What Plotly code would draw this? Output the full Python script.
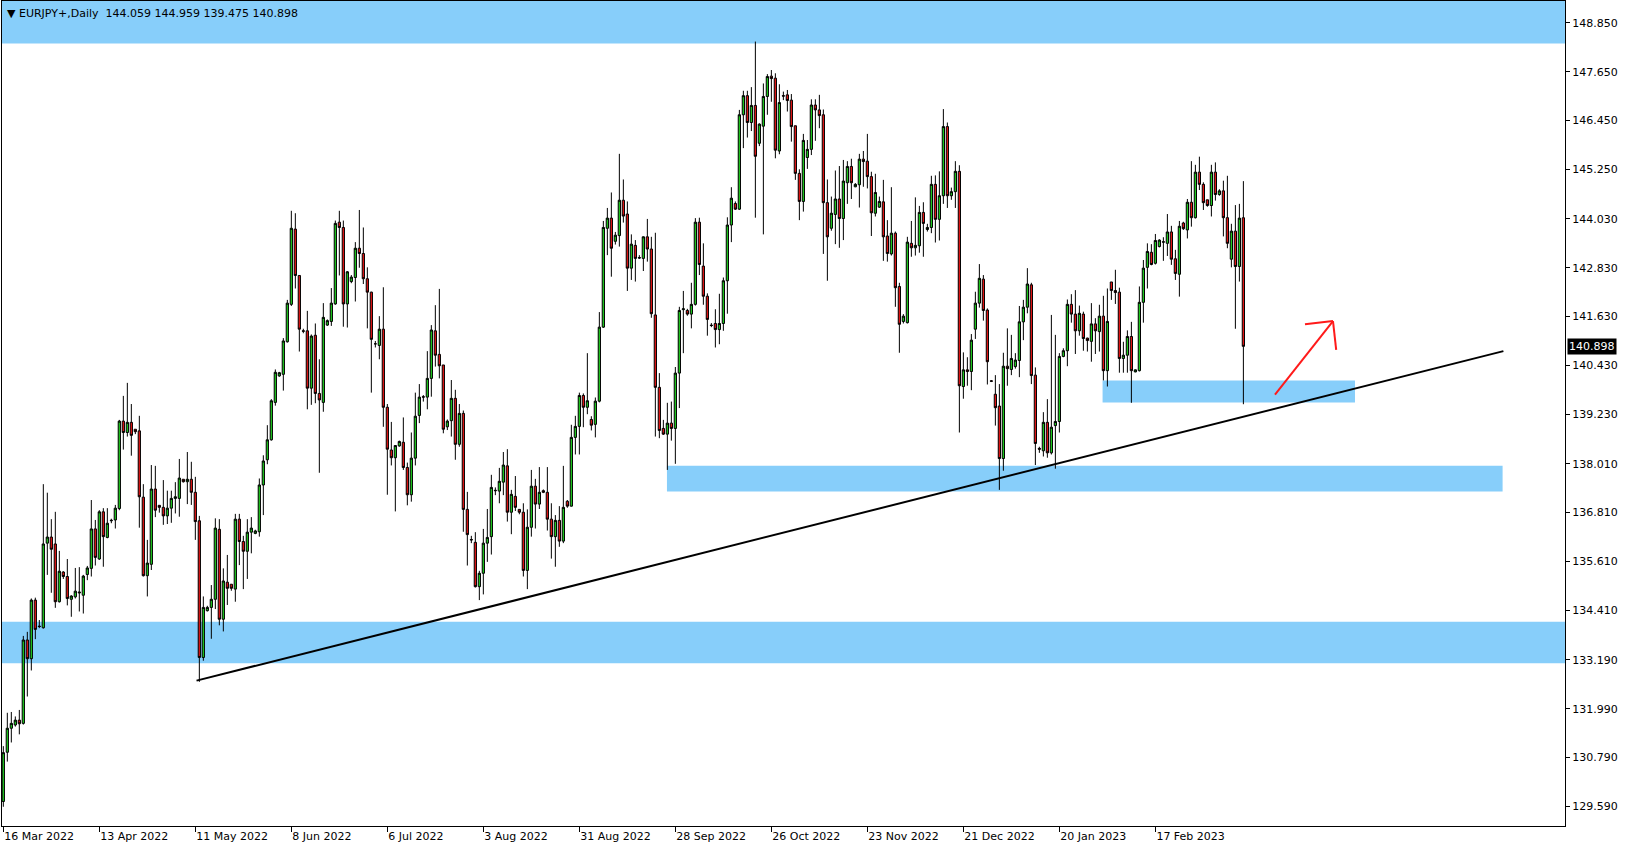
import plotly.graph_objects as go

# ---------------- data (daily bars, index 0 = 16 Mar 2022) ----------------
opens = [
    129.71, 130.92, 131.51, 131.59, 131.71, 131.63, 133.68, 133.22, 134.66, 134.02,
    133.98, 136.06, 136.21, 136.04, 134.62, 135.35, 135.24, 134.68, 134.74, 134.86,
    134.78, 135.29, 135.44, 136.41, 135.67, 136.83, 136.20, 136.61, 136.63, 136.91,
    139.06, 138.78, 139.03, 138.86, 138.82, 137.19, 135.26, 135.54, 137.39, 136.99,
    136.94, 136.73, 136.92, 137.16, 137.16, 137.63, 137.57, 137.63, 137.31, 136.61,
    133.25, 134.40, 134.48, 134.68, 136.40, 134.19, 135.10, 135.05, 134.93, 136.65,
    136.10, 135.86, 136.33, 136.30, 136.34, 137.49, 138.11, 138.60, 139.52, 140.17,
    140.21, 141.01, 141.93, 143.78, 142.64, 141.28, 141.28, 139.87, 141.17, 139.74,
    139.52, 141.42, 141.51, 141.94, 143.95, 143.82, 141.94, 142.49, 142.59, 143.31,
    143.18, 142.56, 142.23, 140.96, 140.92, 141.32, 139.40, 138.35, 138.16, 138.45,
    138.54, 137.92, 137.25, 138.15, 139.20, 139.66, 139.65, 140.11, 141.28, 140.70,
    140.44, 138.92, 139.07, 139.62, 138.49, 139.25, 136.89, 136.15, 136.08, 134.99,
    135.32, 136.06, 136.22, 137.36, 137.34, 137.56, 137.96, 136.82, 137.21, 136.89,
    136.82, 135.39, 136.45, 137.46, 137.02, 137.35, 137.31, 136.65, 136.22, 136.62,
    136.11, 137.09, 136.97, 138.66, 138.93, 139.69, 139.40, 139.10, 138.98, 139.55,
    141.37, 143.80, 144.05, 143.48, 143.62, 144.49, 144.15, 142.82, 143.38, 143.08,
    143.06, 143.59, 143.29, 141.67, 139.89, 138.88, 138.74, 139.01, 138.88, 140.24,
    141.80, 141.78, 141.69, 141.93, 143.95, 142.87, 142.13, 141.42, 141.46, 141.31,
    141.46, 142.51, 143.88, 144.41, 144.27, 146.59, 147.06, 146.40, 146.82, 145.89,
    146.31, 147.04, 147.54, 147.49, 145.70, 147.06, 147.08, 146.95, 146.32, 145.15,
    144.46, 145.54, 145.74, 146.83, 146.71, 146.59, 144.43, 143.80, 144.14, 144.52,
    144.04, 144.92, 145.32, 144.82, 144.87, 145.50, 145.45, 145.07, 144.17, 144.32,
    144.45, 143.61, 143.17, 143.68, 142.37, 141.51, 141.48, 143.43, 143.32, 143.37,
    144.19, 143.77, 143.82, 144.88, 144.02, 144.60, 146.30, 144.60, 144.70, 145.20,
    139.91, 140.32, 140.28, 141.32, 141.96, 142.55, 141.79, 140.05, 139.72, 139.43,
    138.14, 140.41, 140.33, 140.40, 140.55, 141.50, 141.86, 142.41, 140.19, 138.39,
    138.33, 139.03, 138.28, 138.95, 139.05, 140.65, 140.79, 141.93, 141.69, 141.28,
    141.69, 141.10, 141.02, 141.45, 141.26, 141.64, 140.30, 142.48, 142.27, 142.23,
    140.60, 140.68, 141.14, 140.27, 140.30, 141.98, 142.84, 143.21, 142.94, 143.35,
    143.47, 143.43, 143.71, 143.05, 142.67, 143.93, 143.76, 144.44, 144.06, 145.18,
    144.88, 144.50, 144.36, 145.18, 144.63, 144.72, 144.06, 143.04, 143.73, 142.86,
    144.059,
]
highs = [
    131.07, 131.89, 131.91, 131.80, 131.96, 133.78, 133.88, 134.70, 134.72, 134.17,
    137.51, 137.30, 136.65, 136.83, 135.87, 135.37, 135.67, 134.78, 135.45, 135.47,
    135.28, 135.50, 137.12, 136.63, 136.87, 136.92, 136.92, 136.66, 137.00, 139.09,
    139.68, 140.00, 139.48, 138.86, 139.19, 137.51, 136.14, 137.98, 137.96, 136.99,
    137.61, 137.35, 137.35, 137.56, 138.13, 137.63, 138.30, 138.06, 137.69, 136.73,
    134.75, 134.52, 135.03, 136.67, 136.65, 135.44, 135.77, 135.05, 136.78, 136.78,
    136.24, 136.65, 136.70, 136.39, 137.65, 138.22, 138.96, 139.60, 140.33, 140.27,
    141.10, 142.04, 144.23, 144.17, 142.65, 141.33, 141.77, 141.19, 141.46, 140.58,
    141.96, 141.56, 142.33, 143.99, 144.23, 143.99, 142.75, 142.65, 143.46, 144.25,
    143.82, 142.84, 142.24, 141.03, 141.64, 142.35, 139.48, 139.04, 138.47, 138.58,
    139.15, 138.04, 138.78, 139.76, 139.97, 139.70, 140.78, 141.42, 141.91, 142.31,
    140.44, 139.10, 140.07, 139.83, 139.48, 139.32, 137.32, 136.24, 136.33, 135.38,
    136.41, 136.90, 137.74, 137.43, 137.91, 138.30, 138.37, 137.37, 137.71, 136.89,
    137.04, 136.89, 137.86, 137.64, 137.93, 137.38, 137.93, 137.04, 136.75, 136.97,
    137.96, 137.12, 138.97, 139.19, 139.76, 139.74, 140.73, 139.18, 139.64, 141.74,
    143.98, 144.30, 144.68, 143.71, 145.63, 145.00, 144.46, 143.65, 143.51, 143.14,
    143.60, 144.03, 143.59, 143.69, 140.24, 139.09, 139.51, 139.54, 140.39, 141.87,
    142.26, 141.82, 142.46, 144.05, 144.06, 143.43, 142.20, 141.47, 141.81, 142.19,
    142.59, 144.07, 144.81, 144.46, 146.71, 147.18, 147.18, 147.27, 148.39, 146.38,
    147.36, 147.59, 147.69, 147.61, 147.34, 147.16, 147.20, 147.10, 146.32, 145.25,
    146.12, 145.97, 146.97, 146.97, 147.08, 146.72, 145.00, 144.58, 145.22, 145.33,
    145.48, 145.45, 145.51, 144.91, 145.63, 145.70, 146.12, 145.19, 145.14, 144.58,
    144.99, 144.00, 144.81, 143.72, 142.46, 141.69, 143.59, 143.98, 144.56, 144.35,
    144.44, 143.91, 145.09, 145.10, 145.20, 146.73, 146.40, 144.80, 145.45, 145.35,
    140.75, 140.63, 141.20, 142.24, 142.92, 142.65, 141.83, 140.07, 140.19, 139.97,
    140.74, 141.34, 141.18, 140.73, 141.89, 142.04, 142.82, 142.46, 140.38, 138.43,
    139.28, 139.60, 141.67, 141.18, 140.73, 140.85, 142.05, 142.18, 142.28, 141.90,
    141.75, 141.11, 141.96, 141.59, 141.92, 142.14, 142.32, 142.48, 142.78, 142.34,
    141.01, 141.29, 141.50, 140.33, 142.37, 143.02, 143.43, 143.41, 143.66, 143.53,
    143.58, 144.15, 143.86, 143.27, 143.98, 143.96, 144.52, 145.45, 145.36, 145.56,
    144.93, 144.50, 145.36, 145.42, 144.76, 144.97, 145.09, 143.91, 144.37, 144.40,
    144.959,
]
lows = [
    129.58, 130.69, 131.16, 131.55, 131.36, 131.60, 132.29, 132.93, 133.70, 133.97,
    133.96, 135.28, 134.84, 134.47, 134.60, 135.18, 134.53, 134.25, 134.70, 134.38,
    134.33, 135.15, 135.24, 135.51, 135.65, 135.48, 136.18, 136.55, 136.42, 136.87,
    138.36, 138.68, 138.21, 138.74, 136.44, 135.24, 134.75, 135.40, 136.70, 136.81,
    136.51, 136.53, 136.56, 136.79, 136.71, 137.55, 137.02, 137.00, 136.14, 132.65,
    133.17, 134.38, 133.71, 134.44, 134.04, 133.89, 134.54, 134.89, 134.62, 135.52,
    134.93, 135.18, 135.81, 136.28, 136.22, 136.75, 138.00, 138.58, 139.44, 140.15,
    139.81, 140.99, 141.89, 142.32, 140.77, 141.22, 139.35, 139.46, 139.50, 137.79,
    139.29, 141.40, 141.40, 141.92, 142.64, 141.38, 141.36, 142.45, 142.00, 142.83,
    142.43, 141.34, 139.76, 140.87, 140.58, 138.92, 137.25, 137.97, 136.84, 138.43,
    137.86, 136.99, 137.08, 137.97, 139.01, 139.54, 139.35, 139.66, 140.40, 140.11,
    138.76, 138.84, 138.68, 138.11, 138.43, 136.34, 135.51, 136.06, 134.97, 134.66,
    134.80, 135.60, 135.78, 137.24, 137.04, 137.24, 136.59, 136.28, 136.85, 136.77,
    135.24, 134.93, 136.22, 136.42, 136.90, 137.29, 136.37, 135.68, 135.48, 135.97,
    136.06, 136.93, 136.96, 138.24, 138.24, 138.91, 139.23, 138.83, 138.66, 139.52,
    141.35, 143.14, 142.61, 143.40, 143.35, 143.94, 142.26, 142.53, 142.49, 143.05,
    142.75, 142.98, 141.60, 138.68, 138.64, 138.72, 137.86, 138.58, 138.01, 139.38,
    140.73, 141.65, 141.34, 141.90, 142.65, 141.92, 141.16, 141.37, 140.87, 140.95,
    141.28, 141.70, 143.46, 144.25, 144.25, 145.77, 146.03, 146.19, 144.06, 145.82,
    143.65, 146.59, 146.91, 145.52, 145.62, 146.95, 146.67, 145.93, 144.99, 144.00,
    144.21, 145.26, 145.60, 145.95, 146.26, 143.17, 142.51, 143.74, 143.41, 143.32,
    143.51, 144.40, 144.52, 144.81, 144.31, 144.82, 144.78, 143.61, 144.09, 144.30,
    143.00, 142.98, 143.13, 141.87, 140.74, 141.46, 141.46, 143.10, 143.13, 143.20,
    143.10, 143.72, 143.68, 143.45, 143.50, 144.40, 144.30, 144.50, 144.30, 138.78,
    139.61, 139.93, 139.82, 141.08, 141.85, 141.53, 139.96, 140.02, 138.95, 137.37,
    137.84, 139.93, 140.19, 140.35, 140.14, 141.05, 141.71, 139.97, 137.98, 138.28,
    138.19, 138.16, 138.24, 137.89, 138.78, 140.63, 140.41, 141.48, 140.71, 141.16,
    140.79, 140.77, 140.52, 140.71, 140.77, 140.06, 139.91, 142.04, 141.94, 140.25,
    140.25, 140.25, 139.51, 140.26, 140.28, 141.48, 142.32, 142.89, 142.91, 143.33,
    143.00, 143.12, 142.90, 142.53, 142.12, 143.76, 143.55, 143.84, 144.04, 144.74,
    144.25, 144.33, 144.09, 144.48, 144.60, 143.60, 143.31, 142.84, 141.33, 142.49,
    139.475,
]
closes = [
    130.91, 131.51, 131.63, 131.71, 131.62, 133.68, 133.22, 134.66, 133.94, 134.01,
    136.04, 136.21, 135.91, 134.62, 135.37, 135.24, 134.70, 134.76, 134.88, 134.84,
    135.25, 135.45, 136.41, 135.71, 136.83, 136.22, 136.55, 136.62, 136.92, 139.06,
    138.78, 139.03, 138.71, 138.80, 137.20, 135.26, 135.57, 137.39, 136.87, 136.94,
    136.73, 136.92, 137.16, 137.20, 137.66, 137.57, 137.63, 137.31, 136.59, 133.25,
    134.48, 134.48, 134.68, 136.43, 134.19, 135.13, 134.95, 134.95, 136.65, 136.10,
    135.86, 136.33, 136.43, 136.36, 137.49, 138.08, 138.60, 139.56, 140.26, 140.25,
    141.03, 141.96, 143.80, 142.64, 141.32, 141.27, 139.87, 141.15, 139.74, 139.58,
    141.61, 141.53, 141.96, 143.92, 143.82, 141.94, 142.73, 142.60, 143.31, 143.18,
    142.56, 142.23, 141.07, 140.96, 141.32, 139.40, 138.37, 138.16, 138.46, 138.56,
    137.92, 137.25, 138.15, 139.18, 139.65, 139.65, 140.11, 141.30, 140.68, 140.42,
    138.86, 139.06, 139.62, 138.49, 139.25, 136.89, 136.27, 136.14, 134.99, 135.32,
    136.06, 136.20, 137.43, 137.35, 137.58, 137.98, 136.82, 137.26, 136.94, 136.82,
    135.39, 136.45, 137.46, 137.02, 137.31, 137.31, 136.65, 136.22, 136.62, 136.11,
    136.94, 136.97, 138.66, 138.93, 139.69, 139.40, 139.56, 138.96, 139.55, 141.37,
    143.82, 144.05, 143.31, 143.63, 144.49, 144.10, 142.82, 143.41, 143.06, 143.07,
    143.59, 143.29, 141.70, 139.89, 138.83, 138.74, 139.01, 138.88, 140.24, 141.78,
    141.82, 141.69, 141.93, 143.95, 142.91, 142.13, 141.56, 141.41, 141.31, 141.46,
    142.51, 143.88, 144.54, 144.27, 146.59, 147.06, 146.40, 146.82, 145.57, 146.36,
    147.04, 147.53, 147.48, 145.72, 146.89, 147.05, 146.94, 146.30, 145.15, 144.46,
    145.96, 145.74, 146.83, 146.71, 146.57, 144.43, 143.59, 144.17, 144.52, 144.04,
    144.96, 145.32, 144.92, 144.88, 145.50, 145.44, 145.07, 144.18, 144.68, 144.46,
    143.59, 143.18, 143.68, 142.34, 141.44, 141.64, 143.46, 143.32, 143.38, 144.19,
    143.92, 143.82, 144.88, 144.02, 144.60, 146.30, 144.60, 144.70, 145.20, 139.93,
    140.32, 140.28, 141.05, 141.96, 142.57, 141.78, 140.52, 140.04, 139.39, 138.14,
    140.41, 140.35, 140.60, 140.56, 141.50, 141.86, 142.43, 140.18, 138.51, 138.37,
    139.03, 138.28, 138.91, 139.05, 140.65, 140.79, 141.93, 141.69, 141.28, 141.71,
    141.09, 141.04, 141.45, 141.28, 141.64, 140.30, 141.51, 142.27, 142.22, 140.60,
    140.68, 141.14, 140.30, 140.32, 141.98, 142.82, 143.23, 142.91, 143.50, 143.51,
    143.46, 143.71, 143.04, 142.69, 143.85, 143.79, 144.44, 144.06, 145.18, 144.88,
    144.43, 144.36, 145.18, 144.63, 144.72, 144.06, 143.43, 143.73, 142.86, 144.05,
    140.898,
]
bar_index = list(range(len(opens)))

date_tick_bars = [0, 24, 48, 72, 96, 120, 144, 168, 192, 216, 240, 264, 288]
date_tick_labels = ["16 Mar 2022", "13 Apr 2022", "11 May 2022", "8 Jun 2022",
                    "6 Jul 2022", "3 Aug 2022", "31 Aug 2022", "28 Sep 2022",
                    "26 Oct 2022", "23 Nov 2022", "21 Dec 2022", "20 Jan 2023",
                    "17 Feb 2023"]
price_ticks = [148.85, 147.65, 146.45, 145.25, 144.03, 142.83, 141.63, 140.43,
               139.23, 138.01, 136.81, 135.61, 134.41, 133.19, 131.99, 130.79, 129.59]
price_tick_labels = ["%.3f" % v for v in price_ticks]

x_range = [-0.33, 390.4]
y_range = [129.107, 149.387]

# support / resistance zones (bar index span, price span)
zone_x0 = [x_range[0], x_range[0], 165.9, 274.8]
zone_x1 = [x_range[1], x_range[1], 374.8, 337.9]
zone_y0 = [148.34, 133.11, 137.33, 139.52]
zone_y1 = [y_range[1], 134.13, 137.96, 140.06]

trend_x = [48.3, 375.0]
trend_y = [132.68, 140.78]

arrow_x = [317.9, 332.4]
arrow_y = [139.71, 141.52]
arrow_head_x = [325.4, 333.2]
arrow_head_y = [141.44, 140.81]

header = "\u25BC EURJPY+,Daily  144.059 144.959 139.475 140.898"
last_price = closes[-1]

# ---------------- figure ----------------
fig = go.Figure()
fig.add_trace(go.Candlestick(
    x=bar_index, open=opens, high=highs, low=lows, close=closes,
    increasing=dict(line=dict(color="black", width=1), fillcolor="#1ec81e"),
    decreasing=dict(line=dict(color="black", width=1), fillcolor="#e01414"),
    whiskerwidth=0, showlegend=False, hoverinfo="skip",
))

shapes = []
for x0, x1, y0, y1 in zip(zone_x0, zone_x1, zone_y0, zone_y1):
    shapes.append(dict(type="rect", xref="x", yref="y", x0=x0, x1=x1, y0=y0, y1=y1,
                       fillcolor="#87CEFA", line=dict(width=0), layer="below"))
shapes.append(dict(type="line", xref="x", yref="y", x0=trend_x[0], x1=trend_x[1],
                   y0=trend_y[0], y1=trend_y[1], line=dict(color="black", width=2),
                   layer="above"))
shapes.append(dict(type="line", xref="x", yref="y", x0=arrow_x[0], x1=arrow_x[1],
                   y0=arrow_y[0], y1=arrow_y[1], line=dict(color="#ff1a1a", width=2),
                   layer="above"))
for hx, hy in zip(arrow_head_x, arrow_head_y):
    shapes.append(dict(type="line", xref="x", yref="y", x0=arrow_x[1], x1=hx,
                       y0=arrow_y[1], y1=hy, line=dict(color="#ff1a1a", width=2),
                       layer="above"))

font_family = "Tahoma, DejaVu Sans, sans-serif"

fig.update_layout(
    width=1629, height=850,
    margin=dict(l=2, r=64, t=1, b=24, pad=0),
    paper_bgcolor="white", plot_bgcolor="white",
    shapes=shapes,
    boxgap=0.2,
    font=dict(family=font_family, size=11, color="black"),
    xaxis=dict(
        range=x_range, rangeslider=dict(visible=False), showgrid=False, zeroline=False,
        showline=True, mirror=True, linecolor="black", linewidth=1,
        tickmode="array", tickvals=date_tick_bars, ticktext=date_tick_labels,
        ticks="outside", ticklen=5, tickcolor="black", tickwidth=1,
        ticklabelposition="outside right",
        tickfont=dict(family=font_family, size=11, color="black"),
    ),
    yaxis=dict(
        range=y_range, side="right", showgrid=False, zeroline=False,
        showline=True, mirror=True, linecolor="black", linewidth=1,
        tickmode="array", tickvals=price_ticks, ticktext=price_tick_labels,
        ticks="outside", ticklen=4, tickcolor="black", tickwidth=1,
        tickfont=dict(family=font_family, size=11, color="black"),
    ),
    annotations=[
        dict(text=header, xref="paper", yref="paper", x=0, y=1, xanchor="left",
             yanchor="top", xshift=3, yshift=-4, showarrow=False,
             font=dict(family=font_family, size=11, color="black")),
        dict(text="%.3f" % last_price, xref="paper", yref="y", x=1, y=last_price,
             xanchor="left", yanchor="middle", xshift=2, showarrow=False,
             bgcolor="black", borderpad=1,
             font=dict(family=font_family, size=11, color="white")),
    ],
)

fig.write_html("out.html", config={"displayModeBar": False},
               post_script="document.body.style.margin='0';")
